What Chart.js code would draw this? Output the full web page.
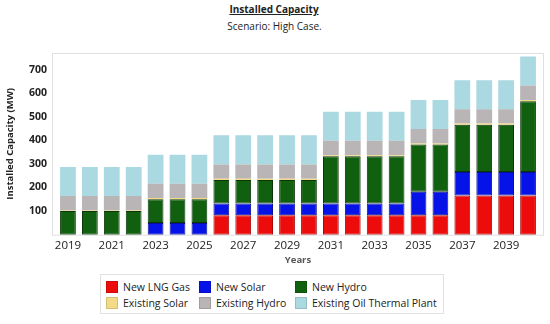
<!DOCTYPE html>
<html>
<head>
<meta charset="utf-8">
<script src="https://cdn.jsdelivr.net/npm/chart.js@4.4.1/dist/chart.umd.min.js"></script>
<style>
  body { margin: 0; background: #fff; font-family: 'Open Sans', sans-serif; color: #222; }
  #wrap { position: relative; width: 550px; height: 324px; overflow: hidden; }
  #title { position: absolute; top: 2px; left: 0; width: 548px; text-align: center; font-size: 10px; font-weight: bold; text-decoration: underline; }
  #subtitle { position: absolute; top: 19px; left: 0; width: 549px; text-align: center; font-size: 10px; }
  #chart { position: absolute; top: 0; left: 0; }
  #legend { position: absolute; left: 100px; top: 274px; width: 344px; height: 40px; border: 1px solid #e2e2e2; box-sizing: border-box;
    display: grid; grid-template-columns: 93px 96px auto; grid-auto-rows: 16px; padding: 4px 0 0 5px; font-size: 10.5px; }
  .item { display: flex; align-items: center; white-space: nowrap; }
  .sw { width: 12px; height: 12px; margin-right: 5px; box-sizing: border-box; border: 1px solid rgba(0,0,0,0.12); }
</style>
</head>
<body>
<div id="wrap">
  <div id="title">Installed Capacity</div>
  <div id="subtitle">Scenario: High Case.</div>
  <canvas id="chart" width="550" height="270"></canvas>
  <div id="legend"></div>
</div>
<script>
const years = ['2019', '2020', '2021', '2022', '2023', '2024', '2025', '2026', '2027', '2028', '2029',
  '2030', '2031', '2032', '2033', '2034', '2035', '2036', '2037', '2038', '2039', '2040'];

const newLngGas = [0, 0, 0, 0, 0, 0, 0, 82, 82, 82, 82, 82, 82, 82, 82, 82, 82, 82, 166, 166, 166, 166];
const newSolar = [0, 0, 0, 0, 50, 50, 50, 50, 50, 50, 50, 50, 50, 50, 50, 50, 100, 100, 100, 100, 100, 100];
const newHydro = [100, 100, 100, 100, 100, 100, 100, 100, 100, 100, 100, 100, 200, 200, 200, 200, 200, 200, 200, 200, 200, 300];
const existingSolar = [3, 3, 3, 3, 5, 5, 5, 5, 5, 5, 5, 5, 5, 5, 5, 5, 5, 5, 5, 5, 5, 5];
const existingHydro = [61, 61, 61, 61, 61, 61, 61, 61, 61, 61, 61, 61, 61, 61, 61, 61, 61, 61, 61, 61, 61, 61];
const existingOil = [123, 123, 123, 123, 123, 123, 123, 123, 123, 123, 123, 123, 123, 123, 123, 123, 123, 123, 123, 123, 123, 123];

const yTicks = [100, 200, 300, 400, 500, 600, 700];

const series = [
  { label: 'New LNG Gas', data: newLngGas, color: '#ec0c0c', edge: '#a80808' },
  { label: 'New Solar', data: newSolar, color: '#0512e8', edge: '#0a0f9a' },
  { label: 'New Hydro', data: newHydro, color: '#11600f', edge: '#0a360a' },
  { label: 'Existing Solar', data: existingSolar, color: '#f2da86', edge: null },
  { label: 'Existing Hydro', data: existingHydro, color: '#b9b4b6', edge: null },
  { label: 'Existing Oil Thermal Plant', data: existingOil, color: '#aad9e1', edge: null },
];

Chart.defaults.font.family = "'Open Sans', sans-serif";
Chart.defaults.color = '#222';

// light frame around the plot, a little wider than the bar area
const framePlugin = {
  id: 'frame',
  beforeDatasetsDraw(chart) {
    const a = chart.chartArea;
    const ctx = chart.ctx;
    ctx.save();
    ctx.strokeStyle = '#e0e0e0';
    ctx.lineWidth = 1;
    ctx.strokeRect(a.left - 5 + 0.5, a.top + 0.5, a.right - a.left + 10 - 1, a.bottom - a.top);
    ctx.restore();
  },
};

const config = {
  type: 'bar',
  data: {
    labels: years,
    datasets: series.map((s) => ({
      label: s.label,
      data: s.data,
      backgroundColor: s.color,
      borderColor: s.edge || s.color,
      borderWidth: s.edge ? 1 : 0,
      borderSkipped: false,
      barPercentage: 0.72,
      categoryPercentage: 1,
    })),
  },
  options: {
    responsive: false,
    animation: false,
    layout: { padding: { top: 53, right: 11, left: 0, bottom: 0 } },
    plugins: {
      legend: { display: false },
      tooltip: { enabled: false },
    },
    scales: {
      x: {
        stacked: true,
        grid: { display: false, drawTicks: false },
        border: { display: false },
        ticks: {
          autoSkip: false,
          maxRotation: 0,
          padding: 4,
          font: { size: 11.5 },
          color: '#222',
          callback: (v, i) => (i % 2 === 0 ? years[i] : ''),
        },
        title: { display: true, text: 'Years', color: '#555', font: { size: 9.5, weight: 'bold' }, padding: 4 },
        afterFit: (s) => { s.height = 35.3; },
      },
      y: {
        stacked: true,
        min: 0,
        max: 770,
        grid: { display: false, drawTicks: false },
        border: { display: false },
        afterBuildTicks: (s) => { s.ticks = yTicks.map((v) => ({ value: v })); },
        ticks: {
          padding: 10,
          font: { size: 10.5, weight: 'bold' },
          color: '#222',
        },
        title: { display: true, text: 'Installed Capacity (MW)', color: '#222', font: { size: 9.5, weight: 'bold' }, padding: 5 },
        afterFit: (s) => { s.width = 57; },
      },
    },
  },
  plugins: [framePlugin],
};

new Chart(document.getElementById('chart'), config);

const legend = document.getElementById('legend');
series.forEach((s) => {
  const item = document.createElement('div');
  item.className = 'item';
  const sw = document.createElement('span');
  sw.className = 'sw';
  sw.style.background = s.color;
  item.appendChild(sw);
  item.appendChild(document.createTextNode(s.label));
  legend.appendChild(item);
});
</script>
</body>
</html>
